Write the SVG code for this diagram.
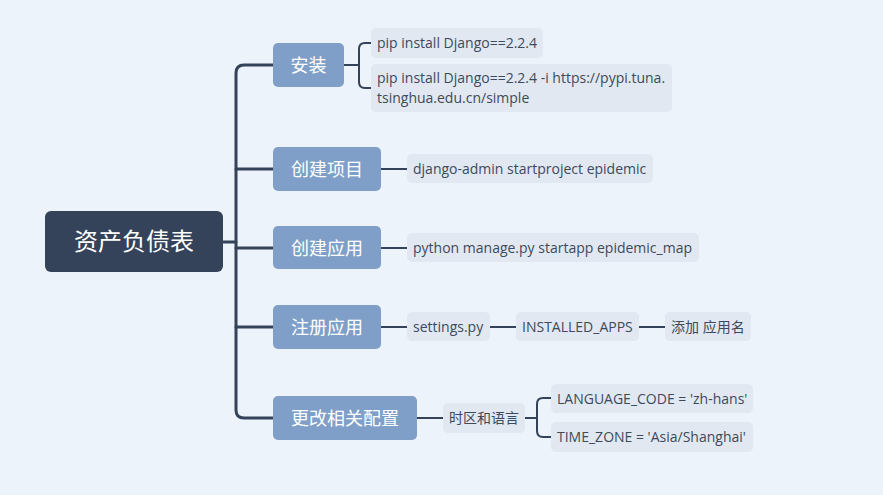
<svg xmlns="http://www.w3.org/2000/svg" width="883" height="495" viewBox="0 0 883 495">
<style>
.bg{fill:#EDF3FA}
.root{fill:#344359}
.br{fill:#809FC8}
.lf{fill:#E1E8F1}
.rt{font-family:"Noto Sans CJK SC","Noto Sans",sans-serif;font-size:24px;fill:#FFFFFF}
.bt{font-family:"Noto Sans CJK SC","Noto Sans",sans-serif;font-size:18px;fill:#FFFFFF}
.lt{font-family:"Open Sans","Noto Sans CJK SC",sans-serif;font-size:14px;fill:#3D4A5C}
.c{fill:none;stroke:#344359;stroke-linecap:round;stroke-linejoin:round}
.t{stroke-width:3}
.s{stroke-width:2}
</style>
<rect class="bg" x="0" y="0" width="883" height="495"/>
<g id="connectors">
<path class="c t" d="M223 242 H236"/>
<path class="c t" d="M273 65 H244 Q236 65 236 73 V410 Q236 418 244 418 H273"/>
<path class="c t" d="M236 169 H273"/>
<path class="c t" d="M236 248 H273"/>
<path class="c t" d="M236 327 H273"/>
<path class="c s" d="M344 65 H359"/>
<path class="c s" d="M371 43 H365 Q359 43 359 49 V82 Q359 88 365 88 H371"/>
<path class="c s" d="M381 169 H407"/>
<path class="c s" d="M381 248 H407"/>
<path class="c s" d="M381 327 H407"/>
<path class="c s" d="M490 327 H516"/>
<path class="c s" d="M639 327 H665"/>
<path class="c s" d="M417 418 H443"/>
<path class="c s" d="M525 418 H537"/>
<path class="c s" d="M551 398 H543 Q537 398 537 404 V431 Q537 437 543 437 H551"/>
</g>
<g id="root">
<rect class="root" x="45" y="211" width="178" height="61" rx="6"/>
<text class="rt" x="134" y="250" text-anchor="middle">资产负债表</text>
</g>
<g id="b1">
<rect class="br" x="273" y="43" width="71" height="44" rx="5"/>
<text class="bt" x="308.5" y="71.5" text-anchor="middle">安装</text>
</g>
<g id="b2">
<rect class="br" x="273" y="147" width="108" height="44" rx="5"/>
<text class="bt" x="327" y="175.5" text-anchor="middle">创建项目</text>
</g>
<g id="b3">
<rect class="br" x="273" y="226" width="108" height="43" rx="5"/>
<text class="bt" x="327" y="254.5" text-anchor="middle">创建应用</text>
</g>
<g id="b4">
<rect class="br" x="273" y="305" width="108" height="44" rx="5"/>
<text class="bt" x="327" y="333.5" text-anchor="middle">注册应用</text>
</g>
<g id="b5">
<rect class="br" x="273" y="396" width="144" height="44" rx="5"/>
<text class="bt" x="345" y="424.5" text-anchor="middle">更改相关配置</text>
</g>
<g id="l1">
<rect class="lf" x="371" y="28" width="172" height="30" rx="5"/>
<text class="lt" x="377" y="48">pip install Django==2.2.4</text>
</g>
<g id="l2">
<rect class="lf" x="371" y="64" width="301" height="48" rx="5"/>
<text class="lt" x="377" y="83">pip install Django==2.2.4 -i https://pypi.tuna.</text>
<text class="lt" x="377" y="103">tsinghua.edu.cn/simple</text>
</g>
<g id="l3">
<rect class="lf" x="407" y="154" width="246" height="29" rx="5"/>
<text class="lt" x="413" y="174">django-admin startproject epidemic</text>
</g>
<g id="l4">
<rect class="lf" x="407" y="233" width="292" height="29" rx="5"/>
<text class="lt" x="413" y="253">python manage.py startapp epidemic_map</text>
</g>
<g id="l5">
<rect class="lf" x="407" y="312" width="83" height="29" rx="5"/>
<text class="lt" x="413" y="332">settings.py</text>
</g>
<g id="l6">
<rect class="lf" x="516" y="312" width="123" height="29" rx="5"/>
<text class="lt" x="522" y="332">INSTALLED_APPS</text>
</g>
<g id="l7">
<rect class="lf" x="665" y="312" width="86" height="29" rx="5"/>
<text class="lt" x="671" y="332">添加 应用名</text>
</g>
<g id="l8">
<rect class="lf" x="443" y="403" width="82" height="30" rx="5"/>
<text class="lt" x="449" y="423">时区和语言</text>
</g>
<g id="l9">
<rect class="lf" x="551" y="384" width="202" height="29" rx="5"/>
<text class="lt" x="557" y="404">LANGUAGE_CODE = 'zh-hans'</text>
</g>
<g id="l10">
<rect class="lf" x="551" y="422" width="202" height="30" rx="5"/>
<text class="lt" x="557" y="442">TIME_ZONE = 'Asia/Shanghai'</text>
</g>
</svg>
